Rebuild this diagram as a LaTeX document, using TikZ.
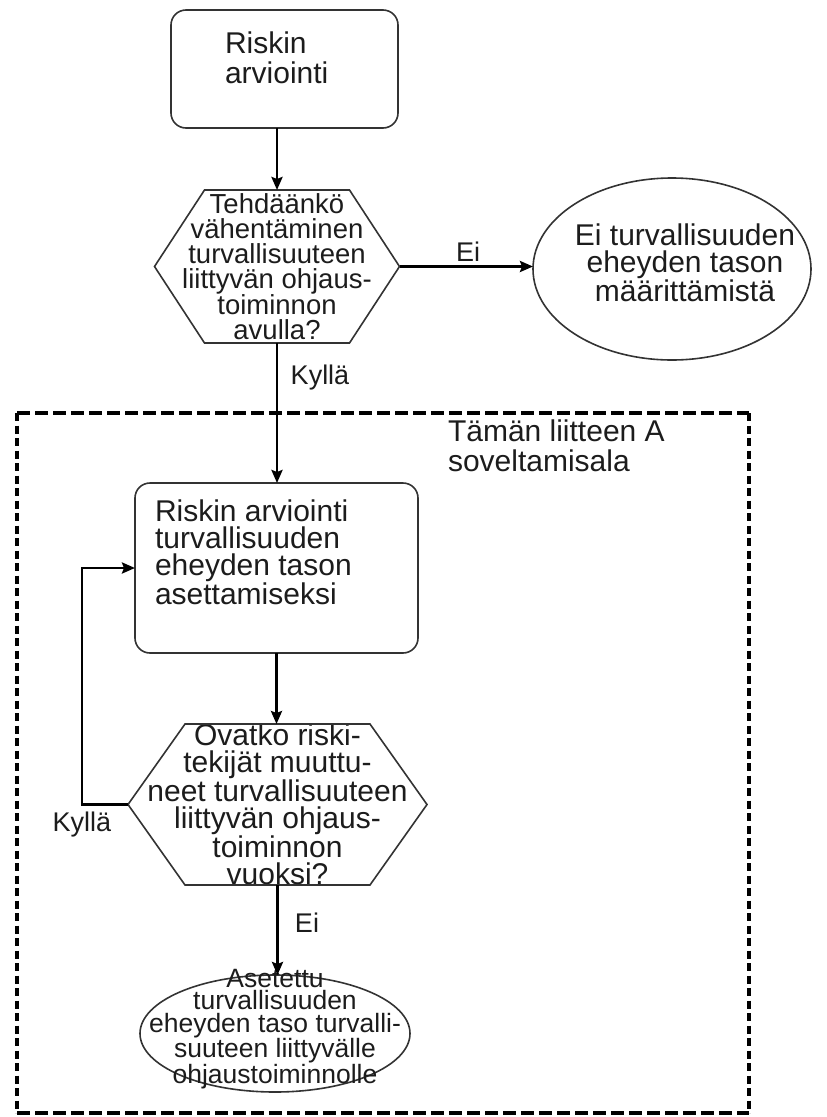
\documentclass[tikz,border=0pt]{standalone}
\usepackage{fontspec}
\setmainfont{Liberation Sans}
\usetikzlibrary{arrows.meta,calc,shapes.geometric}
\definecolor{txt}{HTML}{1C1C1C}
\definecolor{bord}{HTML}{333333}
\newcommand\ftmain{\fontsize{30}{27}\selectfont}
\newcommand\fttop{\fontsize{30}{30}\selectfont}
\newcommand\fthex{\fontsize{27.5}{25}\selectfont}
\newcommand\ftsmall{\fontsize{26.5}{22.5}\selectfont}
\newcommand\ftlab{\fontsize{27}{27}\selectfont}
\begin{document}
\begin{tikzpicture}[x=1pt,y=-1pt,
  every node/.style={inner sep=0pt, outer sep=0pt, text=txt},
  arr/.style={line width=2.8pt, draw=black, -{Stealth[length=13pt,width=11pt,inset=2pt]}},
  rbox/.style={draw=bord, line width=1.6pt, rounded corners=15pt, rectangle},
  hexbox/.style={rectangle, align=center},
  hexframe/.style={draw=bord, line width=1.6pt},
  ell/.style={draw=bord, line width=1.6pt, ellipse},
  lab/.style={font=\ftlab},
  hdash/.style={line width=3.2pt, dash pattern=on 13pt off 5pt},
  vdash/.style={line width=3.8pt, dash pattern=on 8pt off 4.5pt}
]
\useasboundingbox (0,0) rectangle (827,1117);

% dashed scope frame
\coordinate (fa) at (17,413);
\coordinate (fb) at (749,413);
\coordinate (fc) at (749,1113);
\coordinate (fd) at (17,1113);
\draw[hdash] (fa) -- (fb);
\draw[hdash] (fd) -- (fc);
\draw[vdash] (fa) -- (fd);
\draw[vdash] (fb) -- (fc);
\node[anchor=north west, align=left, font=\fttop] (scopet) at (448,420) {Tämän liitteen A\\soveltamisala};

% top box
\node[rbox, minimum width=227pt, minimum height=118pt] (b1) at (284.5,69) {};
\node[anchor=north west, align=left, font=\fttop] (b1t) at (225,31.5) {Riskin\\arviointi};

% hexagon 1
\node[hexbox, minimum width=245pt, minimum height=153pt, font=\fthex] (h1) at (277,266.5)
  {Tehdäänkö\\vähentäminen\\turvallisuuteen\\liittyvän ohjaus-\\toiminnon\\avulla?};
\draw[hexframe] ($(h1.north west)+(50,0)$) -- ($(h1.north east)+(-50,0)$) -- (h1.east)
  -- ($(h1.south east)+(-50,0)$) -- ($(h1.south west)+(50,0)$) -- (h1.west) -- cycle;

% ellipse 1
\node[ell, minimum width=278pt, minimum height=182pt] (e1) at (672,269) {};
\node[align=center, font=\ftmain] (e1t) at (685,263) {Ei turvallisuuden\\eheyden tason\\määrittämistä};

% box 2
\node[rbox, minimum width=283pt, minimum height=170pt] (b2) at (276.5,568) {};
\node[anchor=north west, align=left, font=\ftmain] (b2t) at (155,499.5)
  {Riskin arviointi\\turvallisuuden\\eheyden tason\\asettamiseksi};

% hexagon 2
\node[hexbox, minimum width=299pt, minimum height=153pt, font=\ftmain] (h2) at (277.5,804.5)
  {Ovatko riski-\\tekijät muuttu-\\neet turvallisuuteen\\liittyvän ohjaus-\\toiminnon\\vuoksi?};
\draw[hexframe] ($(h2.north west)+(57,0)$) -- ($(h2.north east)+(-57,0)$) -- (h2.east)
  -- ($(h2.south east)+(-57,0)$) -- ($(h2.south west)+(57,0)$) -- (h2.west) -- cycle;

% ellipse 2
\node[ell, minimum width=270pt, minimum height=117pt] (e2) at (275,1033.5) {};
\node[align=center, font=\ftsmall] (e2t) at (275,1029)
  {Asetettu\\turvallisuuden\\eheyden taso turvalli-\\suuteen liittyvälle\\ohjaustoiminnolle};

% connectors
\draw[arr] (h1.north |- b1.south) -- (h1.north);
\draw[arr] (h1.east) -- (h1.east -| e1.west);
\draw[arr] (h1.south) -- (h1.south |- b2.north);
\draw[arr] (b2.south) -- (b2.south |- h2.north);
\draw[arr] (h2.south) -- (h2.south |- e2.north);
\coordinate (lp1) at (82,804.5);
\coordinate (lp2) at (82,568);
\draw[arr] (h2.west) -- (lp1) -- (lp2) -- (b2.west);

% labels
\node[lab] (lei1) at (468,252) {Ei};
\node[lab] (lky1) at (320,378) {Kyllä};
\node[lab] (lky2) at (82,825) {Kyllä};
\node[lab] (lei2) at (307,923) {Ei};
\end{tikzpicture}
\end{document}
